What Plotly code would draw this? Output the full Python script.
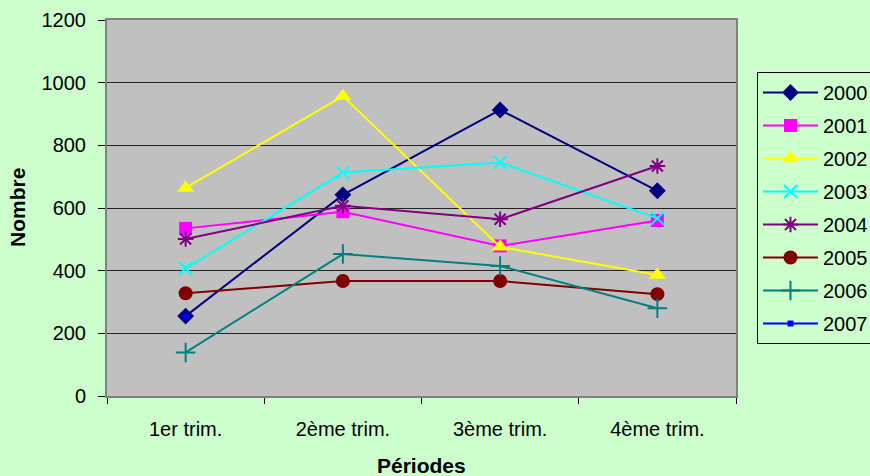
import plotly.graph_objects as go

categories = ["1er trim.", "2ème trim.", "3ème trim.", "4ème trim."]
years = ["2000", "2001", "2002", "2003", "2004", "2005", "2006", "2007"]
v2000 = [255, 642, 913, 655]
v2001 = [535, 588, 479, 560]
v2002 = [664, 957, 476, 386]
v2003 = [407, 713, 745, 567]
v2004 = [501, 607, 564, 734]
v2005 = [328, 367, 367, 325]
v2006 = [139, 453, 415, 280]
v2007 = [252, None, None, None]
y_ticks = [0, 200, 400, 600, 800, 1000, 1200]

series = [v2000, v2001, v2002, v2003, v2004, v2005, v2006, v2007]
colors = ["#000080", "#FF00FF", "#FFFF00", "#00FFFF", "#800080", "#800000", "#008080", "#0000FF"]
symbols = ["diamond", "square", "triangle-up", "x-thin-open", "asterisk-open", "circle", "cross-thin-open", "square"]
sizes = [13, 13, 15, 13, 13, 14, 14, 6]

FONT = "Liberation Sans, Arial, sans-serif"

fig = go.Figure()
for name, vals, c, s, sz in zip(years, series, colors, symbols, sizes):
    fig.add_trace(go.Scatter(
        x=categories, y=vals, name=name, mode="lines+markers",
        legendgroup=name,
        line=dict(color=c, width=2),
        marker=dict(symbol=s, size=sz, color=c, line=dict(color=c, width=2 if "open" in s else 0)),
        connectgaps=False,
    ))

fig.update_layout(
    width=870, height=476,
    margin=dict(l=107, r=134, t=20, b=80, autoexpand=False),
    paper_bgcolor="#CCFFCC",
    plot_bgcolor="#C0C0C0",
    font=dict(family=FONT, size=20, color="black"),
    showlegend=True,
    legend=dict(
        x=(757 - 107) / 629, y=(396 - 72) / 376, xanchor="left", yanchor="top",
        bgcolor="#CCFFCC", bordercolor="black", borderwidth=1,
        font=dict(family=FONT, size=20, color="black"),
        tracegroupgap=4, itemwidth=55,
    ),
    annotations=[
        dict(text="<b>Nombre</b>", xref="paper", yref="paper", x=(17 - 107) / 629, y=0.5,
             textangle=-90, showarrow=False, font=dict(family=FONT, size=21, color="black"),
             xanchor="center", yanchor="middle"),
        dict(text="<b>Périodes</b>", xref="paper", yref="paper", x=0.5, y=(396 - 465) / 376,
             showarrow=False, font=dict(family=FONT, size=21, color="black"),
             xanchor="center", yanchor="middle"),
    ],
)

fig.update_xaxes(
    type="category", range=[-0.5, 3.5], tickson="boundaries", ticks="outside", ticklen=6, tickcolor="black",
    showline=True, linecolor="#808080", linewidth=2, mirror=True,
    showgrid=False, ticklabelstandoff=14,
    tickfont=dict(family=FONT, size=20, color="black"),
)
fig.update_yaxes(
    range=[0, 1200], tickvals=y_ticks, ticks="outside", ticklen=7, tickcolor="black",
    showline=True, linecolor="#808080", linewidth=2, mirror=True,
    showgrid=True, gridcolor="#222222", gridwidth=1, zeroline=False,
    ticklabelstandoff=8,
    tickfont=dict(family=FONT, size=20, color="black"),
)

fig.write_html("out.html", config={"displayModeBar": False},
               post_script="document.body.style.margin='0';document.body.style.overflow='hidden';")
